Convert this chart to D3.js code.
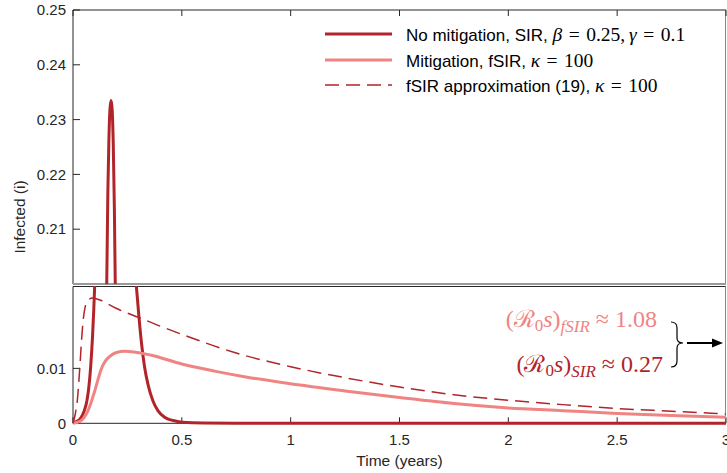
<!DOCTYPE html>
<html>
<head>
<meta charset="utf-8">
<script src="https://cdn.jsdelivr.net/npm/d3@7"></script>
<style>
  body { margin: 0; background: #fff; }
  svg text { font-family: "Liberation Sans", Arial, sans-serif; fill: #262626; }
  .math { font-family: "Liberation Serif", "Times New Roman", serif; }
</style>
</head>
<body>
<svg id="chart" width="727" height="473"></svg>
<script>
// SIR without mitigation (beta = 0.25, gamma = 0.1), time in years
const sirT = [0, 0.02, 0.038, 0.05, 0.064, 0.072, 0.081, 0.09, 0.0996, 0.11, 0.12, 0.13, 0.14, 0.15, 0.155,
  0.16, 0.165, 0.17, 0.175, 0.18, 0.185, 0.19, 0.195, 0.2, 0.21, 0.22, 0.23, 0.24, 0.25, 0.26, 0.27, 0.28,
  0.291, 0.303, 0.315, 0.329, 0.345, 0.367, 0.39, 0.421, 0.46, 0.5, 0.6, 1.0, 2.0, 3.0];
const sirI = [0.0001, 0.0004, 0.0011, 0.0021, 0.0041, 0.0063, 0.0102, 0.016, 0.025, 0.040, 0.062, 0.092, 0.130, 0.178, 0.200,
  0.2165, 0.2265, 0.232, 0.2335, 0.2318, 0.2255, 0.214, 0.197, 0.178, 0.142, 0.111, 0.085, 0.064, 0.050, 0.041, 0.035, 0.030,
  0.025, 0.0194, 0.0145, 0.0102, 0.007, 0.0041, 0.0023, 0.0011, 0.0005, 0.0002, 0.00005, 0, 0, 0];

// Mitigation, fSIR, kappa = 100
const fsirT = [0, 0.03, 0.05, 0.069, 0.085, 0.1, 0.115, 0.13, 0.15, 0.176, 0.2, 0.237, 0.28, 0.36, 0.5,
  0.65, 0.8, 1.0, 1.25, 1.5, 1.75, 2.0, 2.25, 2.5, 2.75, 3.0];
const fsirI = [0, 0.0003, 0.001, 0.0023, 0.004, 0.0059, 0.008, 0.0099, 0.0114, 0.0124, 0.0129, 0.0131, 0.013, 0.0124, 0.0108,
  0.0095, 0.0084, 0.0072, 0.0059, 0.0047, 0.0036, 0.0028, 0.0023, 0.0018, 0.0014, 0.0011];

// fSIR approximation (19), kappa = 100
const approxT = [0, 0.01, 0.02, 0.031, 0.04, 0.046, 0.055, 0.069, 0.09, 0.12, 0.2, 0.3, 0.4, 0.5, 0.75,
  1.0, 1.25, 1.5, 1.75, 2.0, 2.25, 2.5, 2.75, 3.0];
const approxI = [0, 0.0016, 0.0042, 0.01, 0.0155, 0.0185, 0.021, 0.0224, 0.0228, 0.0225, 0.0209, 0.0193, 0.0177, 0.0162, 0.0128,
  0.0103, 0.0083, 0.0066, 0.0052, 0.0042, 0.0034, 0.0027, 0.0022, 0.0017];

const xTicks = [0, 0.5, 1, 1.5, 2, 2.5, 3];
const topTicks = [0.21, 0.22, 0.23, 0.24, 0.25];
const bottomTicks = [0, 0.01];

const dark = "#b1242a", light = "#f08482", axisCol = "#262626";

const svg = d3.select("#chart");
const left = 73, right = 726;
const x = d3.scaleLinear().domain([0, 3]).range([left, right]);
const yTop = d3.scaleLinear().domain([0.2, 0.25]).range([284, 10]);
const yBot = d3.scaleLinear().domain([0, 0.025]).range([423.3, 286]);

const defs = svg.append("defs");
defs.append("clipPath").attr("id", "clipTop").append("rect")
  .attr("x", left).attr("y", 10).attr("width", right - left).attr("height", 274);
defs.append("clipPath").attr("id", "clipBot").append("rect")
  .attr("x", left - 2).attr("y", 286).attr("width", right - left + 4).attr("height", 140);

// frames
svg.append("line").attr("x1", left).attr("x2", right).attr("y1", 10).attr("y2", 10).attr("stroke", axisCol);
svg.append("line").attr("x1", left).attr("x2", left).attr("y1", 10).attr("y2", 284).attr("stroke", axisCol);
svg.append("line").attr("x1", right - 0.5).attr("x2", right - 0.5).attr("y1", 10).attr("y2", 284).attr("stroke", "#8a8a8a");
svg.append("line").attr("x1", left).attr("x2", right).attr("y1", 284).attr("y2", 284).attr("stroke", "#999").attr("stroke-width", 2);
svg.append("line").attr("x1", left).attr("x2", right).attr("y1", 286.5).attr("y2", 286.5).attr("stroke", axisCol);
svg.append("line").attr("x1", left).attr("x2", left).attr("y1", 286.5).attr("y2", 423.3).attr("stroke", axisCol);
svg.append("line").attr("x1", right - 0.5).attr("x2", right - 0.5).attr("y1", 286.5).attr("y2", 423.3).attr("stroke", "#8a8a8a");
svg.append("line").attr("x1", left).attr("x2", right).attr("y1", 423.3).attr("y2", 423.3).attr("stroke", axisCol);

// x ticks (top of upper panel, bottom of lower panel)
xTicks.forEach(t => {
  svg.append("line").attr("x1", x(t)).attr("x2", x(t)).attr("y1", 10).attr("y2", 16).attr("stroke", axisCol);
  svg.append("line").attr("x1", x(t)).attr("x2", x(t)).attr("y1", 423.3).attr("y2", 417.3).attr("stroke", axisCol);
  svg.append("text").attr("x", x(t)).attr("y", 445).attr("text-anchor", "middle")
    .attr("font-size", 15).text(d3.format("~g")(t));
});

topTicks.forEach(v => {
  svg.append("line").attr("x1", left).attr("x2", left + 7).attr("y1", yTop(v)).attr("y2", yTop(v)).attr("stroke", axisCol);
  svg.append("text").attr("x", 66).attr("y", yTop(v)).attr("dy", "0.35em").attr("text-anchor", "end")
    .attr("font-size", 15).text(d3.format(".2f")(v));
});
bottomTicks.forEach(v => {
  svg.append("line").attr("x1", left).attr("x2", left + 7).attr("y1", yBot(v)).attr("y2", yBot(v)).attr("stroke", axisCol);
  svg.append("text").attr("x", 66).attr("y", yBot(v)).attr("dy", "0.35em").attr("text-anchor", "end")
    .attr("font-size", 15).text(v === 0 ? "0" : "0.01");
});

svg.append("text").attr("transform", "translate(25,217) rotate(-90)").attr("text-anchor", "middle")
  .attr("font-size", 15.5).text("Infected (i)");
svg.append("text").attr("x", (left + right) / 2).attr("y", 466).attr("text-anchor", "middle")
  .attr("font-size", 15.5).text("Time (years)");

// curves
const series = [
  { t: sirT, v: sirI, color: dark, width: 3, dash: null },
  { t: fsirT, v: fsirI, color: light, width: 3, dash: null },
  { t: approxT, v: approxI, color: dark, width: 1.5, dash: "14,7" }
];
[["clipTop", yTop], ["clipBot", yBot]].forEach(([clip, y]) => {
  const g = svg.append("g").attr("clip-path", `url(#${clip})`);
  const line = d3.line().x(d => x(d[0])).y(d => y(d[1])).curve(d3.curveMonotoneX);
  series.forEach(s => {
    g.append("path").datum(s.t.map((t, i) => [t, s.v[i]]))
      .attr("d", line).attr("fill", "none").attr("stroke", s.color)
      .attr("stroke-width", s.width).attr("stroke-dasharray", s.dash);
  });
});

// legend
const sp = "\u2004";
const legend = [
  { color: dark, width: 3, dash: null, y: 34, label: "No mitigation, SIR, ", math: [["β", true], [sp + "=" + sp + "0.25,\u2009", false], ["γ", true], [sp + "=" + sp + "0.1", false]] },
  { color: light, width: 3, dash: null, y: 60, label: "Mitigation, fSIR, ", math: [["κ", true], [sp + "=" + sp + "100", false]] },
  { color: dark, width: 1.5, dash: "14,7", y: 85, label: "fSIR approximation (19), ", math: [["κ", true], [sp + "=" + sp + "100", false]] }
];
legend.forEach(d => {
  svg.append("line").attr("x1", 325).attr("x2", 392).attr("y1", d.y).attr("y2", d.y)
    .attr("stroke", d.color).attr("stroke-width", d.width).attr("stroke-dasharray", d.dash);
  const txt = svg.append("text").attr("x", 406).attr("y", d.y + 7).attr("font-size", 17).attr("fill", "#000");
  txt.append("tspan").text(d.label).attr("fill", "#000");
  d.math.forEach(([s, it]) => {
    txt.append("tspan").attr("class", "math").attr("font-size", 19.5).attr("fill", "#000")
      .attr("font-style", it ? "italic" : "normal").attr("xml:space", "preserve").text(s);
  });
});

// annotations
function ratio(yPos, xEnd, color, sub, value) {
  const t = svg.append("text").attr("class", "math").attr("x", xEnd).attr("y", yPos)
    .attr("text-anchor", "end").attr("font-size", 24).style("fill", color);
  t.append("tspan").text("(ℛ").style("fill", color);
  t.append("tspan").attr("font-size", 17).attr("dy", 4).text("0").style("fill", color);
  t.append("tspan").attr("dy", -4).attr("font-style", "italic").text("s").style("fill", color);
  t.append("tspan").text(")").style("fill", color);
  t.append("tspan").attr("font-size", 17).attr("dy", 5).attr("font-style", "italic").text(sub).style("fill", color);
  t.append("tspan").attr("dy", -5).text(" ≈ " + value).style("fill", color);
}
ratio(327, 657, light, "fSIR", "1.08");
ratio(372, 663, dark, "SIR", "0.27");

svg.append("path")
  .attr("d", "M671,322 Q677,322 677,328 L677,338 Q677,343 683,343 Q677,343 677,348 L677,361 Q677,367 671,367")
  .attr("fill", "none").attr("stroke", "#000").attr("stroke-width", 1.2);
svg.append("line").attr("x1", 687).attr("x2", 714).attr("y1", 343).attr("y2", 343).attr("stroke", "#000").attr("stroke-width", 2);
svg.append("path").attr("d", "M712,338.5 L723,343 L712,347.5 Z").attr("fill", "#000");
</script>
</body>
</html>
